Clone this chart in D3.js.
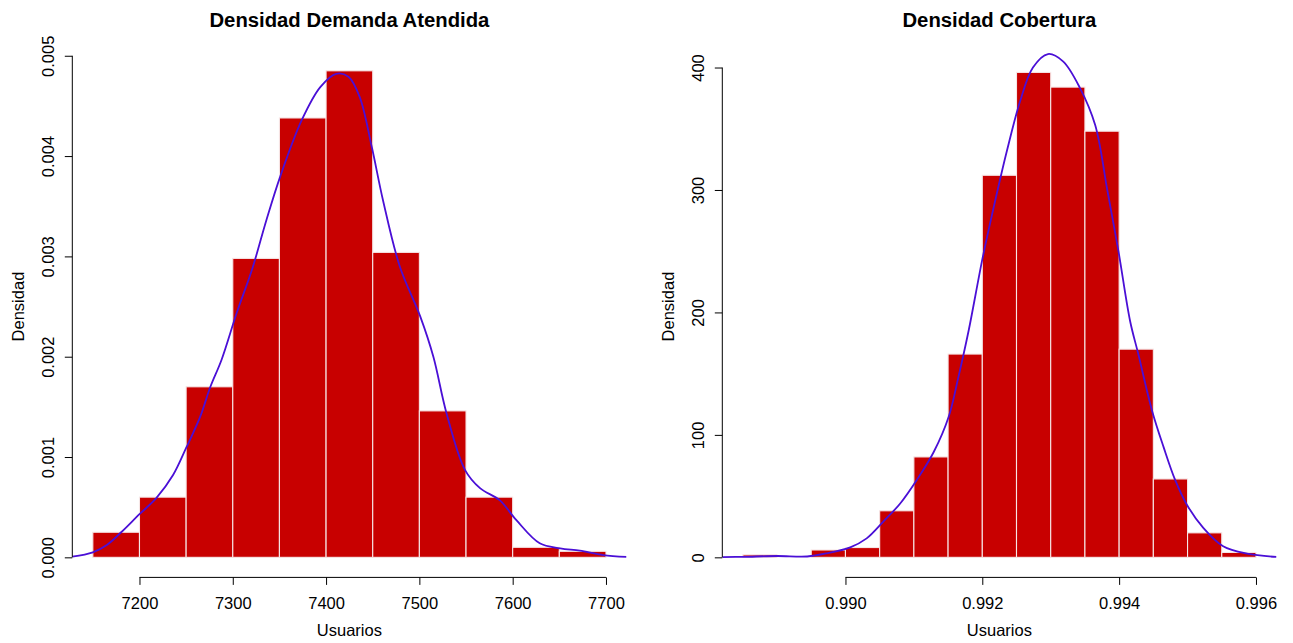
<!DOCTYPE html>
<html>
<head>
<meta charset="utf-8">
<script src="https://cdn.jsdelivr.net/npm/d3@7"></script>
<style>
  html, body { margin: 0; padding: 0; background: #ffffff; }
  svg { display: block; font-family: "Liberation Sans", Arial, Helvetica, sans-serif; }
</style>
</head>
<body>
<svg id="chart" width="1293" height="643"></svg>
<script>
// ---- Demanda atendida: histogram (density scale) + kernel density ----
const demandaBreaks = [7150, 7200, 7250, 7300, 7350, 7400, 7450, 7500, 7550, 7600, 7650, 7700];
const demandaDensity = [0.00025, 0.0006, 0.0017, 0.00298, 0.00438, 0.00485, 0.00304, 0.00146, 0.0006, 0.0001, 0.00006];
const demandaCurveX = [7128, 7150, 7165, 7181, 7200, 7218, 7236, 7250, 7265, 7276, 7288, 7304, 7321, 7336, 7351,
  7374, 7394, 7411, 7424, 7436, 7449, 7461, 7479, 7501, 7515, 7529, 7549, 7565, 7586, 7604, 7629, 7651, 7672, 7697, 7722];
const demandaCurveY = [0.000006, 0.00005, 0.000123, 0.000255, 0.00043, 0.00059, 0.00082, 0.00109, 0.0014, 0.0017, 0.00197,
  0.00243, 0.00288, 0.00336, 0.0038, 0.00436, 0.00469, 0.00482, 0.00479, 0.00459, 0.00409, 0.00356, 0.0029, 0.0024,
  0.002, 0.00144, 0.00087, 0.00069, 0.00057, 0.00037, 0.00014, 0.00009, 0.000066, 0.000023, 0.000005];
const demandaXTicks = [7200, 7300, 7400, 7500, 7600, 7700];
const demandaYTicks = [0, 0.001, 0.002, 0.003, 0.004, 0.005];
const demandaYMax = 0.005;

// ---- Cobertura: histogram (density scale) + kernel density ----
const coberturaBreaks = [0.9885, 0.989, 0.9895, 0.99, 0.9905, 0.991, 0.9915, 0.992, 0.9925, 0.993,
  0.9935, 0.994, 0.9945, 0.995, 0.9955, 0.996];
const coberturaDensity = [2, 0, 6, 8, 38, 82, 166, 312, 396, 384, 348, 170, 64, 20, 4];
const coberturaCurveX = [0.9882, 0.98851, 0.989, 0.98944, 0.98973, 0.99007, 0.99031, 0.99055, 0.9908, 0.99104,
  0.99129, 0.99151, 0.99165, 0.9918, 0.99201, 0.99222, 0.99236, 0.99255, 0.99274, 0.99296, 0.99318, 0.99343,
  0.99365, 0.99383, 0.99399, 0.99416, 0.99428, 0.99448, 0.99465, 0.99482, 0.99499, 0.99523, 0.99552, 0.99587, 0.9963];
const coberturaCurveY = [0.2, 0.4, 1.1, 0.7, 3.3, 8.2, 15.5, 29, 44, 63, 86, 115, 147, 185, 246, 299, 332, 372,
  400, 411, 405, 383, 353, 299, 250, 193, 166, 120, 90, 63, 43, 24, 9, 3, 0.3];
const coberturaXTicks = [0.990, 0.992, 0.994, 0.996];
const coberturaYTicks = [0, 100, 200, 300, 400];
const coberturaYMax = 409.6;

const panels = [
  {
    title: "Densidad Demanda Atendida", xlab: "Usuarios", ylab: "Densidad",
    breaks: demandaBreaks, density: demandaDensity,
    curveX: demandaCurveX, curveY: demandaCurveY,
    xTicks: demandaXTicks, yTicks: demandaYTicks, yMax: demandaYMax,
    xFormat: d3.format("d"), yFormat: d3.format(".3f"),
    left: 72.3, right: 626.5
  },
  {
    title: "Densidad Cobertura", xlab: "Usuarios", ylab: "Densidad",
    breaks: coberturaBreaks, density: coberturaDensity,
    curveX: coberturaCurveX, curveY: coberturaCurveY,
    xTicks: coberturaXTicks, yTicks: coberturaYTicks, yMax: coberturaYMax,
    xFormat: d3.format(".3f"), yFormat: d3.format("d"),
    left: 722.3, right: 1276.5
  }
];

const plotTop = 35.7, plotBottom = 577.4;
const barFill = "#c80000", barStroke = "#f6e6e6", curveColor = "#4a0fd6";
const labelSize = 16.5, titleSize = 20.3;
const svg = d3.select("#chart");

panels.forEach((p, i) => {
  // R-style axis extension of 4% on each side
  const xMin = p.breaks[0], xMax = p.breaks[p.breaks.length - 1];
  const xPad = 0.04 * (xMax - xMin);
  const x = d3.scaleLinear().domain([xMin - xPad, xMax + xPad]).range([p.left, p.right]);
  const y = d3.scaleLinear().domain([-0.04 * p.yMax, 1.04 * p.yMax]).range([plotBottom, plotTop]);

  const g = svg.append("g");

  const clipId = "clip" + i;
  svg.append("clipPath").attr("id", clipId)
    .append("rect")
    .attr("x", p.left).attr("y", plotTop)
    .attr("width", p.right - p.left).attr("height", plotBottom - plotTop);

  // histogram bars
  const bins = p.density.map((d, k) => ({ x0: p.breaks[k], x1: p.breaks[k + 1], d }));
  g.append("g").selectAll("rect")
    .data(bins.filter(b => b.d > 0))
    .join("rect")
    .attr("x", b => x(b.x0))
    .attr("y", b => y(b.d))
    .attr("width", b => x(b.x1) - x(b.x0))
    .attr("height", b => y(0) - y(b.d))
    .attr("fill", barFill)
    .attr("stroke", barStroke)
    .attr("stroke-width", 1.1);

  // density curve
  const pts = p.curveX.map((v, k) => [v, p.curveY[k]]);
  const line = d3.line().x(d => x(d[0])).y(d => y(d[1])).curve(d3.curveCatmullRom.alpha(0.5));
  g.append("path")
    .datum(pts)
    .attr("clip-path", `url(#${clipId})`)
    .attr("d", line)
    .attr("fill", "none")
    .attr("stroke", curveColor)
    .attr("stroke-width", 1.8);

  // x axis
  const xAxis = g.append("g")
    .attr("transform", `translate(0,${plotBottom})`)
    .call(d3.axisBottom(x).tickValues(p.xTicks).tickFormat(p.xFormat).tickSize(7.5).tickPadding(12).tickSizeOuter(0));
  xAxis.select(".domain").remove();
  xAxis.append("line")
    .attr("x1", x(p.xTicks[0])).attr("x2", x(p.xTicks[p.xTicks.length - 1]))
    .attr("y1", 0).attr("y2", 0).attr("stroke", "#000");
  xAxis.selectAll("text").attr("font-size", labelSize).attr("fill", "#000")
    .attr("font-family", "'Liberation Sans', Arial, sans-serif");
  xAxis.selectAll(".tick line").attr("stroke", "#000");

  // y axis with rotated labels
  const yAxis = g.append("g")
    .attr("transform", `translate(${p.left},0)`)
    .call(d3.axisLeft(y).tickValues(p.yTicks).tickFormat(p.yFormat).tickSize(7.5).tickSizeOuter(0));
  yAxis.select(".domain").remove();
  yAxis.append("line")
    .attr("x1", 0).attr("x2", 0)
    .attr("y1", y(p.yTicks[0])).attr("y2", y(p.yTicks[p.yTicks.length - 1]))
    .attr("stroke", "#000");
  yAxis.selectAll(".tick line").attr("stroke", "#000");
  yAxis.selectAll("text")
    .attr("x", null).attr("dy", null)
    .attr("transform", "translate(-18,0) rotate(-90)")
    .attr("text-anchor", "middle")
    .attr("font-size", labelSize).attr("fill", "#000")
    .attr("font-family", "'Liberation Sans', Arial, sans-serif");

  const cx = (p.left + p.right) / 2;
  const cy = (plotTop + plotBottom) / 2;

  // title
  svg.append("text")
    .attr("x", cx).attr("y", 27)
    .attr("text-anchor", "middle")
    .attr("font-size", titleSize).attr("font-weight", "bold")
    .text(p.title);

  // axis titles
  svg.append("text")
    .attr("x", cx).attr("y", 636)
    .attr("text-anchor", "middle")
    .attr("font-size", labelSize)
    .text(p.xlab);

  svg.append("text")
    .attr("transform", `translate(${p.left - 48},${cy}) rotate(-90)`)
    .attr("text-anchor", "middle")
    .attr("font-size", labelSize)
    .text(p.ylab);
});
</script>
</body>
</html>
